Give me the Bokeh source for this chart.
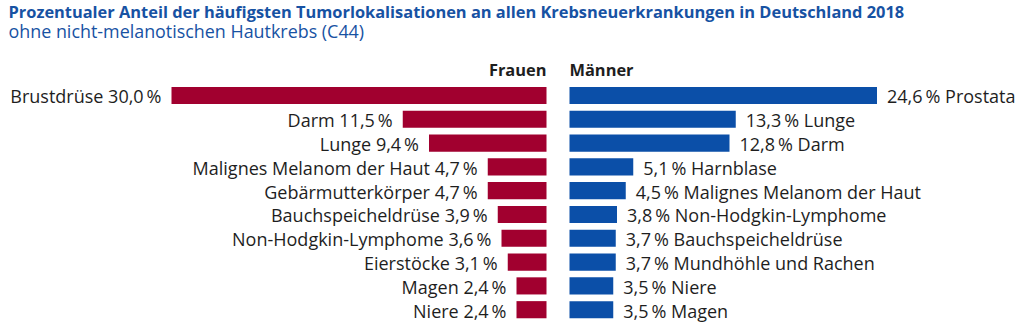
from bokeh.plotting import figure
from bokeh.models import Range1d, Label, ColumnDataSource
from bokeh.core.properties import value
from bokeh.embed import file_html
from bokeh.resources import INLINE

# ---- data ----
women_sites = ["Brustdrüse", "Darm", "Lunge", "Malignes Melanom der Haut", "Gebärmutterkörper",
               "Bauchspeicheldrüse", "Non-Hodgkin-Lymphome", "Eierstöcke", "Magen", "Niere"]
women_values = [30.0, 11.5, 9.4, 4.7, 4.7, 3.9, 3.6, 3.1, 2.4, 2.4]
men_sites = ["Prostata", "Lunge", "Darm", "Harnblase", "Malignes Melanom der Haut",
             "Non-Hodgkin-Lymphome", "Bauchspeicheldrüse", "Mundhöhle und Rachen", "Niere", "Magen"]
men_values = [24.6, 13.3, 12.8, 5.1, 4.5, 3.8, 3.7, 3.7, 3.5, 3.5]
title_text = "Prozentualer Anteil der häufigsten Tumorlokalisationen an allen Krebsneuerkrankungen in Deutschland 2018"
subtitle_text = "ohne nicht-melanotischen Hautkrebs (C44)"
group_labels = ["Frauen", "Männer"]

FONT = "Open Sans"
RED = "#A1002F"
BLUE = "#0B4FA8"
TITLE_BLUE = "#1752A3"
TEXT = "#1e1e1e"

def fmt(v):
    return f"{v:.1f}".replace(".", ",") + "\u2009%"

gap = 0.92  # half gap between the two halves, in percent units
rows = list(range(len(women_values)))

wsrc = ColumnDataSource(dict(
    y=rows,
    left=[-gap - v for v in women_values],
    right=[-gap] * len(women_values),
    lab=[f"{s} {fmt(v)}" for s, v in zip(women_sites, women_values)],
))
msrc = ColumnDataSource(dict(
    y=rows,
    left=[gap] * len(men_values),
    right=[gap + v for v in men_values],
    lab=[f"{fmt(v)} {s}" for s, v in zip(men_sites, men_values)],
))

p = figure(width=1024, height=323, output_backend="svg", toolbar_location=None,
           x_range=Range1d(-44.6, 37.32), y_range=Range1d(9.58, -3.99),
           min_border=0, min_border_left=0, min_border_right=0,
           min_border_top=0, min_border_bottom=0)
p.axis.visible = False
p.grid.visible = False
p.outline_line_color = None
p.background_fill_color = "white"
p.border_fill_color = "white"

h = 0.72
p.hbar(y="y", left="left", right="right", height=h, source=wsrc, fill_color=RED, line_color=None)
p.hbar(y="y", left="left", right="right", height=h, source=msrc, fill_color=BLUE, line_color=None)

p.text(x="left", y="y", text="lab", source=wsrc, x_offset=-10, y_offset=1,
       text_align="right", text_baseline="middle", text_font=value(FONT),
       text_font_size="18px", text_color=TEXT)
p.text(x="right", y="y", text="lab", source=msrc, x_offset=10, y_offset=1,
       text_align="left", text_baseline="middle", text_font=value(FONT),
       text_font_size="18px", text_color=TEXT)

p.text(x=[-gap], y=[-1.1], text=[group_labels[0]], text_align="right", text_baseline="middle",
       text_font=value(FONT), text_font_size="16.4px", text_font_style="bold", text_color=TEXT)
p.text(x=[gap], y=[-1.1], text=[group_labels[1]], text_align="left", text_baseline="middle",
       text_font=value(FONT), text_font_size="16.4px", text_font_style="bold", text_color=TEXT)

p.add_layout(Label(x=8, y=312, x_units="screen", y_units="screen", text=title_text,
                   text_font=FONT, text_font_size="16.4px", text_font_style="bold",
                   text_color=TITLE_BLUE, text_baseline="alphabetic"))
p.add_layout(Label(x=8, y=293, x_units="screen", y_units="screen", text=subtitle_text,
                   text_font=FONT, text_font_size="17.9px",
                   text_color=TITLE_BLUE, text_baseline="alphabetic"))

open("out.html", "w").write(file_html(p, INLINE))
